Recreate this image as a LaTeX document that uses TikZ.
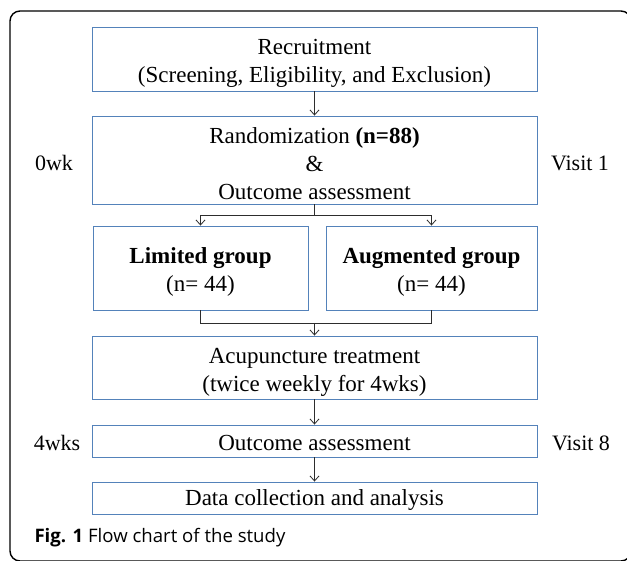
\documentclass[tikz,border=0pt]{standalone}
\usepackage{fontspec}
\setmainfont{Liberation Serif}
\newfontfamily\capfont{Open Sans}
\usetikzlibrary{
  arrows.meta,
  chains,
  positioning,
  scopes
}
\definecolor{boxblue}{RGB}{84,130,186}
\definecolor{linegray}{RGB}{45,45,45}
\newcommand{\lift}{\rule{0pt}{24pt}}

\begin{document}
\begin{tikzpicture}[x=1pt,y=-1pt,
      stage/.style={
         rectangle,
         inner sep=0pt,
         minimum width=445pt,
         line width=0.9pt,
         draw=boxblue,
         align=center,
         font=\fontsize{23}{28}\selectfont
      },
      group/.style={
         stage,
         minimum width=213pt
      },
      push/.style={execute at begin node={\rule{0pt}{#1}}},
      side/.style={
         font=\fontsize{22}{28}\selectfont
      },
      frame/.style={
         draw=black,
         line width=1.4pt,
         rounded corners=10pt
      },
      point/.style={coordinate},
      tip/.style={-{Straight Barb[length=5pt,width=9pt]}},
      every join/.style={draw=linegray,line width=0.8pt},
      hv path/.style={to path={-| (\tikztotarget)}},
      vh path/.style={to path={|- (\tikztotarget)}}
    ]
    \useasboundingbox (0,0) rectangle (627,561);
    \clip (0,0) rectangle (627,561);
    \draw[frame] (10,11) rectangle (631,561);

    \node (rec) [stage, minimum height=64pt] at (314.5,59) {\lift Recruitment\\(Screening, Eligibility, and Exclusion)};
    \node (rand) [stage, minimum height=88pt] at (314.5,160) {\lift Randomization \textbf{(n=88)}\\\&\\Outcome assessment};
    \node (lim) [group, minimum width=215pt, minimum height=84pt] at (200.5,268) {\lift\textbf{Limited group}\\(n= 44)};
    \node (aug) [group, minimum width=211pt, minimum height=84pt] at (431.5,268) {\lift\textbf{Augmented group}\\(n= 44)};
    \node (acu) [stage, minimum height=63pt] at (314.5,367.5) {\lift Acupuncture treatment\\(twice weekly for 4wks)};
    \node (out) [stage, push=20pt, minimum height=32pt] at (314.5,441) {Outcome assessment};
    \node (data) [stage, push=20pt, minimum height=32pt] at (314.5,498) {Data collection and analysis};

    \node (split) [point] at (314.5,215) {};
    \node (merge) [point] at (314.5,323) {};

    \node (wk0) [side] at (54,163) {0wk};
    \node (visit1) [side] at (580,163) {Visit 1};
    \node (wk4) [side] at (57,443) {4wks};
    \node (visit8) [side] at (581,443) {Visit 8};
    \node (caption) [anchor=west, font=\capfont\fontsize{18.6}{22}\selectfont] at (31,538) {\textbf{Fig. 1} Flow chart of the study};

  { [start chain]
       \chainin (rec);
       \chainin (rand)    [join=by tip];
       \chainin (split)   [join];
  }
  { [start chain]
       \chainin (split);
       \chainin (lim)     [join=by {hv path,tip}];
  }
  { [start chain]
       \chainin (split);
       \chainin (aug)     [join=by {hv path,tip}];
  }
  { [start chain]
       \chainin (lim);
       \chainin (merge)   [join=by {vh path}];
  }
  { [start chain]
       \chainin (aug);
       \chainin (merge)   [join=by {vh path}];
  }
  { [start chain]
       \chainin (merge);
       \chainin (acu)     [join=by tip];
       \chainin (out)     [join=by tip];
       \chainin (data)    [join=by tip];
  }
\end{tikzpicture}
\end{document}
